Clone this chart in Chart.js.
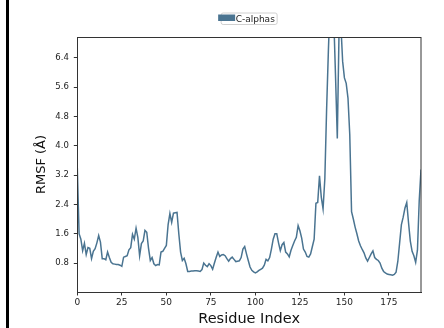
<!DOCTYPE html>
<html>
<head>
<meta charset="utf-8">
<script src="https://cdn.jsdelivr.net/npm/chart.js@4/dist/chart.umd.min.js"></script>
<style>
  html, body { margin: 0; padding: 0; background: #ffffff; }
  #wrap { width: 444px; height: 328px; }
</style>
</head>
<body>
<div id="wrap"><canvas id="rmsf" width="444" height="328"></canvas></div>
<script>
// Per-residue C-alpha RMSF values (Å), residues 0..193
const rmsfCA = [
  3.4, 1.6, 1.45, 1.14, 1.34, 1.03, 1.22, 1.2, 0.92, 1.12,
  1.19, 1.35, 1.55, 1.37, 0.92, 0.92, 0.89, 1.1, 0.95, 0.82,
  0.78, 0.77, 0.76, 0.76, 0.74, 0.71, 0.96, 0.98, 1.0, 1.16,
  1.22, 1.58, 1.45, 1.75, 1.5, 1.0, 1.33, 1.4, 1.69, 1.64,
  1.2, 0.87, 0.95, 0.78, 0.73, 0.76, 0.75, 1.1, 1.12, 1.2,
  1.28, 1.85, 2.15, 1.91, 2.16, 2.17, 2.18, 1.6, 1.1, 0.87,
  0.93, 0.78, 0.57, 0.57, 0.58, 0.58, 0.59, 0.59, 0.58, 0.57,
  0.62, 0.8, 0.74, 0.7, 0.78, 0.73, 0.63, 0.8, 0.96, 1.1,
  0.98, 1.02, 1.03, 1.0, 0.92, 0.85, 0.92, 0.96, 0.9, 0.84,
  0.85, 0.86, 0.95, 1.18, 1.25, 1.05, 0.87, 0.69, 0.6, 0.56,
  0.53, 0.56, 0.6, 0.63, 0.66, 0.74, 0.9, 0.86, 0.95, 1.18,
  1.45, 1.6, 1.6, 1.35, 1.14, 1.3, 1.36, 1.1, 1.05, 0.97,
  1.15, 1.28, 1.4, 1.5, 1.82, 1.68, 1.48, 1.18, 1.1, 0.98,
  0.96, 1.05, 1.25, 1.45, 2.43, 2.45, 3.18, 2.6, 2.28, 3.1,
  5.0, 6.6, 8.0, 8.3, 7.5, 5.9, 4.2, 7.2, 7.3, 6.3,
  5.85, 5.7, 5.3, 4.3, 2.2, 2.0, 1.78, 1.6, 1.4, 1.27,
  1.17, 1.08, 0.94, 0.85, 0.95, 1.05, 1.13, 0.95, 0.9, 0.87,
  0.8, 0.66, 0.57, 0.53, 0.5, 0.49, 0.48, 0.47, 0.49, 0.55,
  0.85, 1.35, 1.85, 2.05, 2.3, 2.45, 1.9, 1.4, 1.12, 1.0,
  0.82, 1.15, 2.5, 3.35
];
// Residue indices matching each value
const residueIndex = rmsfCA.map((_, i) => i);

// Axis ticks
const xTicks = [0, 25, 50, 75, 100, 125, 150, 175];
const yTicks = [0.8, 1.6, 2.4, 3.2, 4.0, 4.8, 5.6, 6.4];

const seriesLabel = 'C-alphas';
const lineColor = '#4a7491';
const FONT = 'DejaVu Sans';

// White page with the dark rule on the left edge
const backdrop = {
  id: 'backdrop',
  beforeDraw(chart) {
    const ctx = chart.ctx;
    ctx.save();
    ctx.fillStyle = '#ffffff';
    ctx.fillRect(0, 0, chart.width, chart.height);
    ctx.fillStyle = '#000000';
    ctx.fillRect(6, 0, 3, chart.height);
    ctx.restore();
  }
};

// Box frame around the plotting area plus a framed legend above it
const frameAndLegend = {
  id: 'frameAndLegend',
  afterDraw(chart) {
    const ctx = chart.ctx;
    const a = chart.chartArea;
    ctx.save();
    ctx.strokeStyle = '#333333';
    ctx.lineWidth = 1;
    ctx.strokeRect(Math.round(a.left) + 0.5, Math.round(a.top) + 0.5,
                   Math.round(a.right - a.left) - 0.5, Math.round(a.bottom - a.top));

    const cx = (a.left + a.right) / 2;
    // legend frame
    const fx = cx - 28, fy = 13, fw = 56, fh = 11.5, r = 2;
    ctx.fillStyle = 'rgba(255,255,255,0.8)';
    ctx.strokeStyle = '#d0d0d0';
    ctx.beginPath();
    ctx.moveTo(fx + r, fy);
    ctx.lineTo(fx + fw - r, fy);
    ctx.quadraticCurveTo(fx + fw, fy, fx + fw, fy + r);
    ctx.lineTo(fx + fw, fy + fh - r);
    ctx.quadraticCurveTo(fx + fw, fy + fh, fx + fw - r, fy + fh);
    ctx.lineTo(fx + r, fy + fh);
    ctx.quadraticCurveTo(fx, fy + fh, fx, fy + fh - r);
    ctx.lineTo(fx, fy + r);
    ctx.quadraticCurveTo(fx, fy, fx + r, fy);
    ctx.closePath();
    ctx.fill();
    ctx.stroke();
    // legend patch
    ctx.fillStyle = lineColor;
    ctx.fillRect(cx - 31, 14.5, 17, 6.5);
    // legend text
    ctx.fillStyle = '#222222';
    ctx.font = '9px "' + FONT + '"';
    ctx.textAlign = 'left';
    ctx.textBaseline = 'alphabetic';
    ctx.fillText(chart.data.datasets[0].label, cx - 13.5, 21.8);
    ctx.restore();
  }
};

new Chart(document.getElementById('rmsf'), {
  type: 'line',
  data: {
    labels: residueIndex,
    datasets: [{
      label: seriesLabel,
      data: residueIndex.map((x, i) => ({ x: x, y: rmsfCA[i] })),
      borderColor: lineColor,
      backgroundColor: lineColor,
      borderWidth: 1.5,
      pointRadius: 0,
      tension: 0,
      fill: false
    }]
  },
  options: {
    responsive: false,
    animation: false,
    devicePixelRatio: 1,
    layout: { padding: { left: 34, right: 23, top: 37, bottom: 0 } },
    plugins: {
      legend: { display: false },
      title: { display: false },
      tooltip: { enabled: false }
    },
    scales: {
      x: {
        type: 'linear',
        min: 0,
        max: residueIndex[residueIndex.length - 1],
        afterBuildTicks(scale) { scale.ticks = xTicks.map(v => ({ value: v })); },
        afterFit(scale) { scale.height = 36; },
        grid: { drawOnChartArea: false, drawTicks: true, tickLength: 3.5, color: '#333333', lineWidth: 1 },
        border: { display: true, color: '#333333', width: 1 },
        ticks: {
          color: '#222222',
          padding: 2,
          maxRotation: 0,
          font: { family: FONT, size: 9 },
          callback: v => String(v)
        },
        title: {
          display: true,
          text: 'Residue Index',
          color: '#111111',
          padding: { top: 0, bottom: 0 },
          font: { family: FONT, size: 14.5 }
        }
      },
      y: {
        type: 'linear',
        min: 0.01,
        max: 6.965,
        afterBuildTicks(scale) { scale.ticks = yTicks.map(v => ({ value: v })); },
        afterFit(scale) { scale.width = 43.3; },
        grid: { drawOnChartArea: false, drawTicks: true, tickLength: 3.5, color: '#333333', lineWidth: 1 },
        border: { display: true, color: '#333333', width: 1 },
        ticks: {
          color: '#222222',
          padding: 5,
          font: { family: FONT, size: 8.5 },
          callback: v => v.toFixed(1)
        },
        title: {
          display: true,
          text: 'RMSF (Å)',
          color: '#111111',
          padding: { top: 0, bottom: 0 },
          font: { family: FONT, size: 13 }
        }
      }
    }
  },
  plugins: [backdrop, frameAndLegend]
});
</script>
</body>
</html>
